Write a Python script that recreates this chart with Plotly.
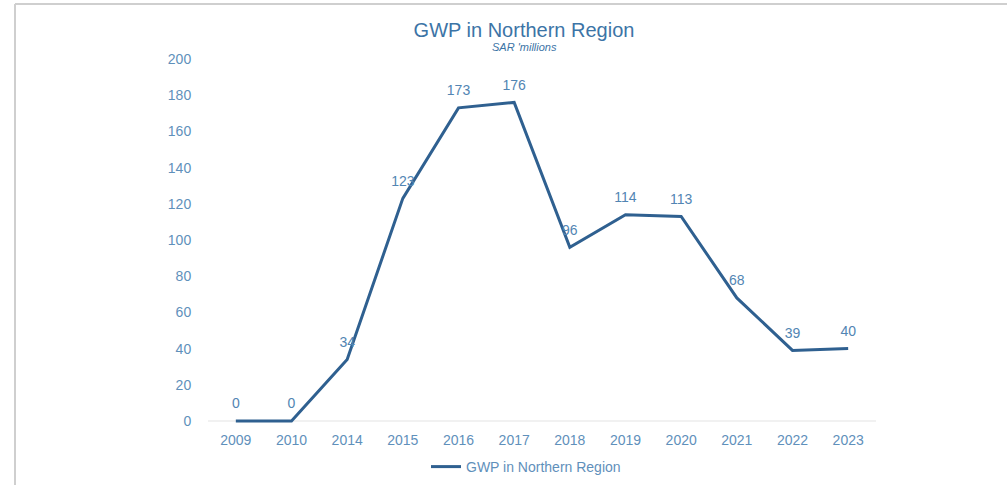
import plotly.graph_objects as go

years = ["2009", "2010", "2014", "2015", "2016", "2017", "2018", "2019", "2020", "2021", "2022", "2023"]
gwp = [0, 0, 34, 123, 173, 176, 96, 114, 113, 68, 39, 40]
y_ticks = [0, 20, 40, 60, 80, 100, 120, 140, 160, 180, 200]

W, H = 1007, 485
L, R, T, B = 208, 131, 59, 62
pw = W - L - R
ph = H - T - B

def px_x(p):
    return (p - L) / pw

def px_y(p):
    return (H - B - p) / ph

FONT = "Liberation Sans"
line_col = "#2F6090"
lab_col = "#5285B3"
tick_col = "#5F90BB"

fig = go.Figure()
fig.add_trace(go.Scatter(
    x=years, y=gwp, mode="lines+markers+text", name="GWP in Northern Region",
    line=dict(color=line_col, width=3),
    marker=dict(size=13, color="rgba(0,0,0,0)"),
    text=[str(v) for v in gwp], textposition="top center",
    textfont=dict(color=lab_col, size=14, family=FONT),
    cliponaxis=False,
))

fig.update_layout(
    width=W, height=H,
    margin=dict(l=L, r=R, t=T, b=B, autoexpand=False),
    paper_bgcolor="white", plot_bgcolor="white",
    title=dict(
        text="GWP in Northern Region",
        x=px_x(524), xref="paper", xanchor="center",
        y=1 - 30 / H, yref="container", yanchor="middle",
        font=dict(size=20, color="#3C74A6", family=FONT),
    ),
    annotations=[
        dict(text="<i>SAR 'millions</i>", xref="paper", yref="paper",
             x=px_x(524), y=px_y(47), xanchor="center", yanchor="middle",
             showarrow=False, font=dict(size=11, color="#3C74A6", family=FONT)),
    ],
    xaxis=dict(
        type="category", range=[-0.5, len(years) - 0.5],
        showgrid=False, zeroline=False, showline=False,
        ticks="outside", ticklen=4, tickcolor="rgba(0,0,0,0)",
        tickfont=dict(size=14, color=tick_col, family=FONT),
    ),
    yaxis=dict(
        range=[-1.1, 200], tickvals=y_ticks, showgrid=False, zeroline=False, showline=False,
        ticks="outside", ticklen=13, tickcolor="rgba(0,0,0,0)",
        tickfont=dict(size=14, color=tick_col, family=FONT),
    ),
    showlegend=True,
    legend=dict(
        orientation="h", x=px_x(526), xanchor="center", y=px_y(467), yanchor="middle",
        font=dict(size=14, color=tick_col, family=FONT),
        bgcolor="rgba(0,0,0,0)", itemwidth=30,
    ),
    shapes=[
        dict(type="line", xref="paper", yref="y", x0=0, x1=1, y0=0, y1=0, layer="below",
             line=dict(color="#E3E3E3", width=1)),
        dict(type="line", xref="paper", yref="paper", x0=px_x(15), x1=px_x(W + 5), y0=px_y(4), y1=px_y(4),
             line=dict(color="#CFCFCF", width=2)),
        dict(type="line", xref="paper", yref="paper", x0=px_x(15), x1=px_x(15), y0=px_y(4), y1=px_y(H + 5),
             line=dict(color="#CFCFCF", width=2)),
    ],
)

fig.write_html("out.html", config={"displayModeBar": False},
               post_script="document.body.style.margin='0';")
